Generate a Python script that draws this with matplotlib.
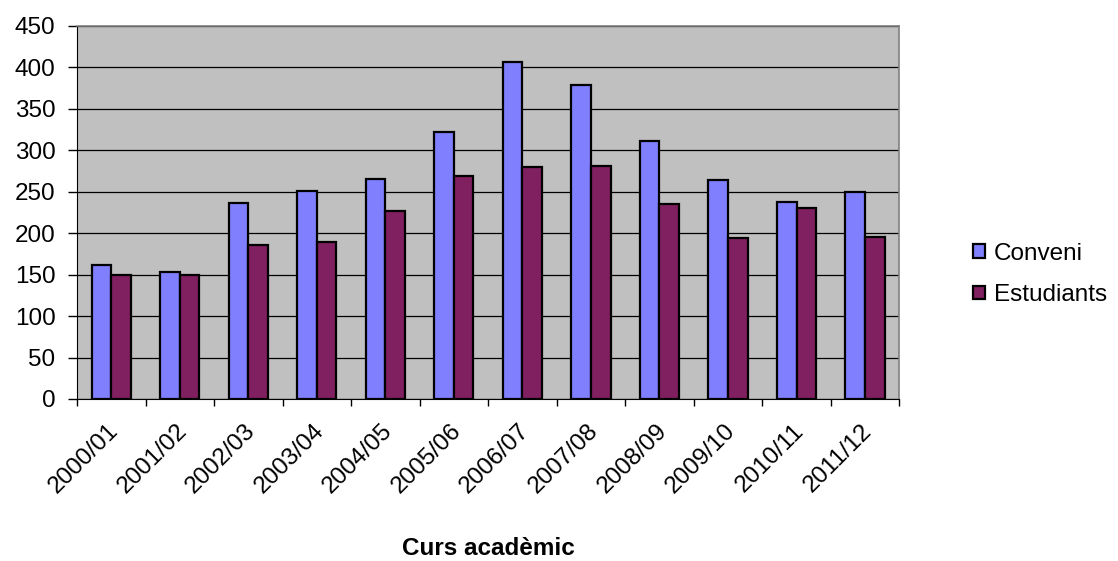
import numpy as np
import matplotlib

matplotlib.use("Agg")

import matplotlib.pyplot as plt
from matplotlib.transforms import ScaledTranslation

plt.rcParams["font.family"] = ["Liberation Sans", "DejaVu Sans"]

# Dades llegides del gràfic
cursos = ["2000/01", "2001/02", "2002/03", "2003/04", "2004/05", "2005/06",
          "2006/07", "2007/08", "2008/09", "2009/10", "2010/11", "2011/12"]
conveni = [162, 153, 236, 251, 265, 322, 406, 379, 311, 264, 238, 250]
estudiants = [149, 149, 186, 189, 227, 269, 280, 281, 235, 194, 231, 195]

C_BLUE = "#8080FF"
C_PURPLE = "#802060"
C_BG = "#C0C0C0"
FS = 17.5

fig = plt.figure(figsize=(11.18, 5.61), dpi=100)
fig.patch.set_facecolor("white")
ax = fig.add_axes([0.0689, 0.2888, 0.8044 - 0.0689, 0.9537 - 0.2888])
ax.set_facecolor(C_BG)

x = np.arange(len(cursos))
w = 1 / 3.5
ax.bar(x - w / 2, conveni, w, color=C_BLUE, edgecolor="black", linewidth=1.6, label="Conveni", zorder=3)
ax.bar(x + w / 2, estudiants, w, color=C_PURPLE, edgecolor="black", linewidth=1.6, label="Estudiants", zorder=3)

ax.set_xlim(-0.5, len(cursos) - 0.5)
ax.set_ylim(0, 450)
ax.set_yticks(range(0, 451, 50))
ax.yaxis.grid(True, color="black", linewidth=0.9, zorder=1)
ax.set_axisbelow(True)

# marques entre categories, etiquetes al centre
ax.set_xticks(np.arange(-0.5, len(cursos), 1))
ax.set_xticklabels([])
ax.set_xticks(x, minor=True)
ax.set_xticklabels(cursos, minor=True, rotation=45, ha="right", rotation_mode="anchor", fontsize=FS)
ax.tick_params(axis="x", which="minor", length=0, pad=15)
ax.tick_params(axis="x", which="major", length=5, width=1, color="black")
ax.tick_params(axis="y", length=6.5, width=1, labelsize=FS, pad=9)

shift = ScaledTranslation(-4 / 100, 0, fig.dpi_scale_trans)
for lbl in ax.get_xticklabels(minor=True):
    lbl.set_transform(lbl.get_transform() + shift)

for s in ["top", "right"]:
    ax.spines[s].set_color("#808080")
    ax.spines[s].set_linewidth(1.2)
ax.spines["left"].set_color("black")
ax.spines["bottom"].set_color("black")

ax.set_xlabel("Curs acadèmic", fontsize=FS, fontweight="bold", labelpad=28)

ax.legend(loc="center left", bbox_to_anchor=(1.09, 0.334), frameon=False, fontsize=FS,
          borderaxespad=0, borderpad=0,
          handlelength=0.5, handleheight=0.5, handletextpad=0.35, labelspacing=0.8)

plt.savefig("out.png", dpi=100)
